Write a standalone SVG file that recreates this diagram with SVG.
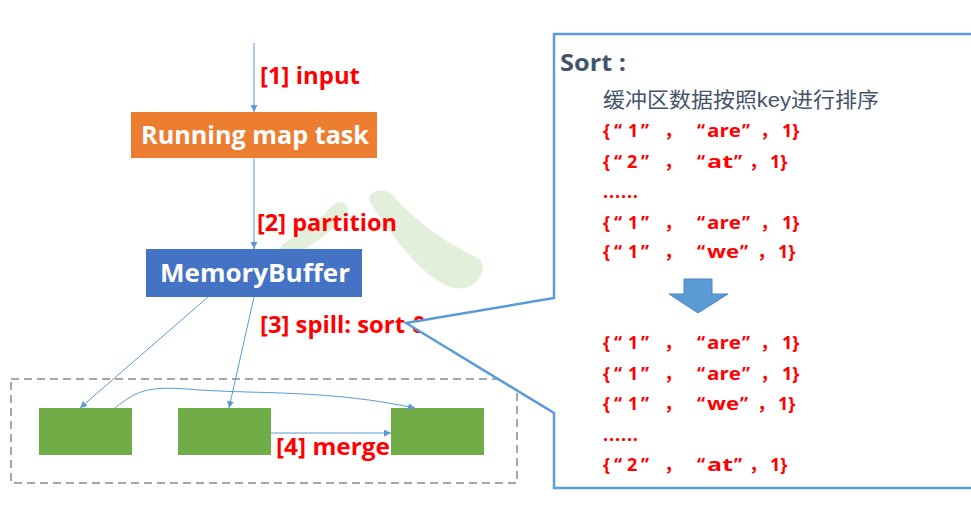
<svg xmlns="http://www.w3.org/2000/svg" width="971" height="524" viewBox="0 0 971 524">
<defs>
<marker id="ah" viewBox="0 0 10 10" refX="10" refY="5" markerWidth="7" markerHeight="7" markerUnits="userSpaceOnUse" orient="auto">
<path d="M0,0 L10,5 L0,10 Z" fill="#5b9bd5"/>
</marker>
<style>
.lbl{font-family:"Open Sans","Liberation Sans","Noto Sans CJK SC",sans-serif;font-weight:bold;fill:#ff0000;font-size:23px}
.node{font-family:"Open Sans","Liberation Sans",sans-serif;font-weight:bold;fill:#ffffff;font-size:25px}
.conn{fill:none;stroke:#5b9bd5;stroke-width:1;marker-end:url(#ah)}
.row{font-family:"Open Sans","Liberation Sans","Noto Sans CJK SC",sans-serif;font-weight:bold;fill:#ff0000;font-size:18px}
.cjk{font-family:"Noto Sans CJK SC",sans-serif}
.green{fill:#70ad47}
</style>
</defs>
<rect width="971" height="524" fill="#ffffff"/>
<g id="watermark" fill="#e2efda">
<path d="M340,210 Q 320,232 288,250" fill="none" stroke="#e2efda" stroke-width="16" stroke-linecap="round"/>
<path d="M370,202 C 366,190 386,186 394,197 C 420,226 452,246 478,258 C 490,266 478,292 455,288 C 430,284 398,246 370,202 Z"/>
</g>
<g id="input-label"><text class="lbl" x="260" y="84" textLength="100" lengthAdjust="spacingAndGlyphs">[1] input</text></g>
<g id="running-map-task">
<rect x="131" y="112" width="246" height="46" fill="#ed7d31"/>
<text class="node" x="141" y="144" textLength="228" lengthAdjust="spacingAndGlyphs">Running map task</text>
</g>
<g id="memory-buffer">
<rect x="146" y="249" width="216" height="48" fill="#4472c4"/>
<text class="node" x="160" y="282" textLength="190" lengthAdjust="spacingAndGlyphs">MemoryBuffer</text>
</g>
<g id="partition-label"><text class="lbl" x="257" y="231" textLength="140" lengthAdjust="spacingAndGlyphs">[2] partition</text></g>
<g id="spill-label"><text class="lbl" x="260" y="333"><tspan textLength="145" lengthAdjust="spacingAndGlyphs">[3] spill: sort</tspan><tspan x="412">&amp;</tspan></text></g>
<g id="spill-area">
<rect x="11" y="379" width="506" height="104" fill="none" stroke="#a6a6a6" stroke-width="2" stroke-dasharray="8,5"/>
</g>
<g id="spill1"><rect class="green" x="39" y="408" width="93" height="47"/></g>
<g id="spill2"><rect class="green" x="178" y="408" width="93" height="47"/></g>
<g id="merged"><rect class="green" x="391" y="408" width="93" height="47"/></g>
<g id="connectors">
<line class="conn" x1="254" y1="43" x2="254" y2="112"/>
<line class="conn" x1="254" y1="158" x2="254" y2="249"/>
<line class="conn" x1="208" y1="297" x2="80" y2="408"/>
<line class="conn" x1="254" y1="297" x2="229" y2="408"/>
<path class="conn" d="M115,408 C 140,388 150,386 200,390 C 260,394 330,390 415,408"/>
<line class="conn" x1="271" y1="433" x2="391" y2="433"/>
</g>
<g id="merge-label"><text class="lbl" x="276" y="455" textLength="114" lengthAdjust="spacingAndGlyphs">[4] merge</text></g>
<g id="sort-callout">
<path d="M554,34 L990,34 L990,488 L554,488 L554,413 L406,323 L554,298 Z" fill="#ffffff" stroke="#5b9bd5" stroke-width="2.5" stroke-linejoin="miter"/>
<text x="560" y="71" font-family="Open Sans,Liberation Sans,sans-serif" font-weight="bold" font-size="24" fill="#44546a" textLength="66" lengthAdjust="spacingAndGlyphs">Sort :</text>
<text x="603" y="107" font-family="Liberation Sans,Noto Sans CJK SC,sans-serif" font-size="21" fill="#44546a" textLength="276" lengthAdjust="spacingAndGlyphs">缓冲区数据按照key进行排序</text>
<text class="row" y="137"><tspan x="603">{</tspan><tspan x="614">“</tspan><tspan x="628">1</tspan><tspan x="641">”</tspan><tspan class="cjk" x="664">，</tspan><tspan x="697">“</tspan><tspan x="707" textLength="34" lengthAdjust="spacingAndGlyphs">are</tspan><tspan x="742">”</tspan><tspan class="cjk" x="760">，</tspan><tspan x="782">1}</tspan></text>
<text class="row" y="168"><tspan x="603">{</tspan><tspan x="614">“</tspan><tspan x="627">2</tspan><tspan x="641">”</tspan><tspan class="cjk" x="664">，</tspan><tspan x="697">“</tspan><tspan x="707" textLength="26" lengthAdjust="spacingAndGlyphs">at</tspan><tspan x="734">”</tspan><tspan class="cjk" x="749">，</tspan><tspan x="770">1}</tspan></text>
<text class="row" y="198" x="603" textLength="35" lengthAdjust="spacing">......</text>
<text class="row" y="229"><tspan x="603">{</tspan><tspan x="614">“</tspan><tspan x="628">1</tspan><tspan x="641">”</tspan><tspan class="cjk" x="664">，</tspan><tspan x="697">“</tspan><tspan x="707" textLength="34" lengthAdjust="spacingAndGlyphs">are</tspan><tspan x="742">”</tspan><tspan class="cjk" x="760">，</tspan><tspan x="782">1}</tspan></text>
<text class="row" y="258"><tspan x="603">{</tspan><tspan x="614">“</tspan><tspan x="628">1</tspan><tspan x="641">”</tspan><tspan class="cjk" x="664">，</tspan><tspan x="697">“</tspan><tspan x="707" textLength="32" lengthAdjust="spacingAndGlyphs">we</tspan><tspan x="740">”</tspan><tspan class="cjk" x="757">，</tspan><tspan x="778">1}</tspan></text>
<path d="M684,279 L712,279 L712,294 L728,294 L698,313 L669,294 L684,294 Z" fill="#5b9bd5" stroke="#4a86c0" stroke-width="1"/>
<text class="row" y="349"><tspan x="603">{</tspan><tspan x="614">“</tspan><tspan x="628">1</tspan><tspan x="641">”</tspan><tspan class="cjk" x="664">，</tspan><tspan x="697">“</tspan><tspan x="707" textLength="34" lengthAdjust="spacingAndGlyphs">are</tspan><tspan x="742">”</tspan><tspan class="cjk" x="760">，</tspan><tspan x="782">1}</tspan></text>
<text class="row" y="380"><tspan x="603">{</tspan><tspan x="614">“</tspan><tspan x="628">1</tspan><tspan x="641">”</tspan><tspan class="cjk" x="664">，</tspan><tspan x="697">“</tspan><tspan x="707" textLength="34" lengthAdjust="spacingAndGlyphs">are</tspan><tspan x="742">”</tspan><tspan class="cjk" x="760">，</tspan><tspan x="782">1}</tspan></text>
<text class="row" y="410"><tspan x="603">{</tspan><tspan x="614">“</tspan><tspan x="628">1</tspan><tspan x="641">”</tspan><tspan class="cjk" x="664">，</tspan><tspan x="697">“</tspan><tspan x="707" textLength="32" lengthAdjust="spacingAndGlyphs">we</tspan><tspan x="740">”</tspan><tspan class="cjk" x="757">，</tspan><tspan x="778">1}</tspan></text>
<text class="row" y="441" x="603" textLength="35" lengthAdjust="spacing">......</text>
<text class="row" y="471"><tspan x="603">{</tspan><tspan x="614">“</tspan><tspan x="627">2</tspan><tspan x="641">”</tspan><tspan class="cjk" x="664">，</tspan><tspan x="697">“</tspan><tspan x="707" textLength="26" lengthAdjust="spacingAndGlyphs">at</tspan><tspan x="734">”</tspan><tspan class="cjk" x="749">，</tspan><tspan x="770">1}</tspan></text>
</g>
</svg>
